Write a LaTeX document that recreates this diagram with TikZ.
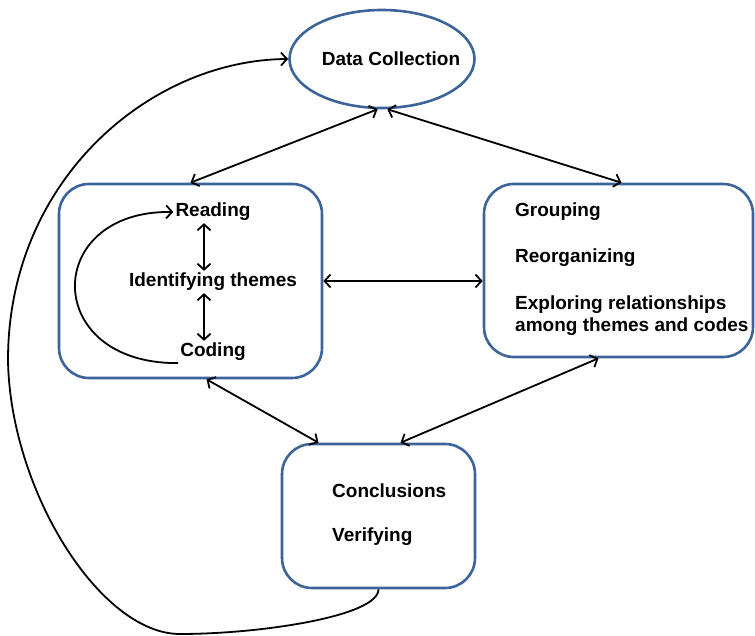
\documentclass[tikz,border=0pt]{standalone}
\usepackage{fontspec}
\setmainfont{Liberation Sans}
\usetikzlibrary{positioning,shapes.geometric,arrows.meta}
\definecolor{boxblue}{RGB}{60,100,155}

\begin{document}
\begin{tikzpicture}[x=1pt,y=-1pt,>={Straight Barb[length=6pt,width=13pt]},
   node distance=70pt,on grid,
   every node/.style={font=\fontsize{19}{22}\selectfont\bfseries},
   stage/.style={draw=boxblue,line width=2.6pt,rounded corners=30pt},
   txt/.style={inner sep=2pt},
   link/.style={<->,line width=1.8pt}]
   \useasboundingbox (0,0) rectangle (755,636);
   \node[ellipse,draw=boxblue,line width=2.6pt,minimum width=185pt,minimum height=98pt,
         label={[xshift=9pt]center:Data Collection}] (data) at (382,59) {};
   \node[stage,minimum width=263pt,minimum height=194pt] (analyse) at (190.5,281) {};
   \node[stage,minimum width=269pt,minimum height=173pt] (sort) at (618.5,270.5) {};
   \node[stage,minimum width=193pt,minimum height=144pt] (verify) at (378.5,516) {};
   \node[txt] (ident) at (213,282) {Identifying themes};
   \node[txt] (reading) [above=of ident] {Reading};
   \node[txt] (coding) [below=of ident] {Coding};
   \node[txt,anchor=west] (grouping) at (513,212) {Grouping};
   \node[txt,below=46pt of grouping.west,anchor=west] (reorg) {Reorganizing};
   \node[txt,below=58pt of reorg.west,anchor=west,align=left] (explore) {Exploring relationships\\among themes and codes};
   \node[txt,anchor=west] (concl) at (330,491) {Conclusions};
   \node[txt,below=46pt of concl.west,anchor=west] (verifying) {Verifying};
    \path[link]
    (data.265) edge (analyse.north)
    (data.276) edge ([xshift=3pt]sort.north)
    (analyse.east) edge (analyse.east -| sort.west)
    ([xshift=16pt]analyse.south) edge ([xshift=-60pt]verify.north)
    ([xshift=-20pt]sort.south) edge ([xshift=22pt]verify.north)
    ([xshift=-9pt]reading.south) edge ([xshift=-9pt]ident.north)
    ([xshift=-9pt]ident.south) edge ([xshift=-9pt]coding.north);
    \draw[->,line width=1.8pt] (coding.south west) .. controls +(-137,1) and +(-131,-2) .. (reading.west);
    \draw[->,line width=1.8pt] (verify.south) .. controls +(0,27) and +(80,0) .. (180,634)
          .. controls (100,634) and (10,490) .. (8,360)
          .. controls (8,180) and (150,60) .. (data.west);
\end{tikzpicture}
\end{document}
